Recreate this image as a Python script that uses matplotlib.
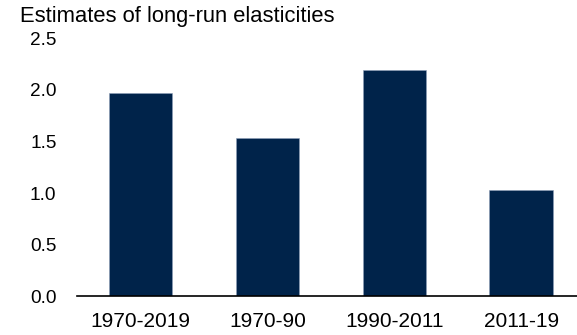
import matplotlib
matplotlib.use("Agg")
import matplotlib.pyplot as plt

periods = ["1970-2019", "1970-90", "1990-2011", "2011-19"]
elasticities = [1.97, 1.53, 2.19, 1.03]
y_ticks = [0.0, 0.5, 1.0, 1.5, 2.0, 2.5]
title = "Estimates of long-run elasticities"

plt.rcParams["font.family"] = ["Liberation Sans", "DejaVu Sans"]

fig = plt.figure(figsize=(5.77, 3.35), dpi=100)
ax = fig.add_axes([0.134, 0.115, 0.866, 0.7707])

x = range(len(periods))
ax.bar(x, elasticities, width=0.5, color="#00234a",
       edgecolor="#8fa0b8", linewidth=0.4)

ax.set_xlim(-0.5, 3.44)
ax.set_ylim(0, 2.5)
ax.set_yticks(y_ticks)
ax.set_yticklabels([f"{v:.1f}" for v in y_ticks], fontsize=13.7)
ax.set_xticks(list(x))
ax.set_xticklabels(periods, fontsize=15)
ax.tick_params(axis="y", length=0, pad=15)
ax.tick_params(axis="x", length=0, pad=11)

for side in ("left", "right", "top"):
    ax.spines[side].set_visible(False)
ax.spines["bottom"].set_linewidth(1.2)
ax.spines["bottom"].set_color("black")

fig.text(20 / 577, 1 - 22 / 335, title, fontsize=15.8,
         ha="left", va="baseline")

fig.savefig("out.png", dpi=100)
